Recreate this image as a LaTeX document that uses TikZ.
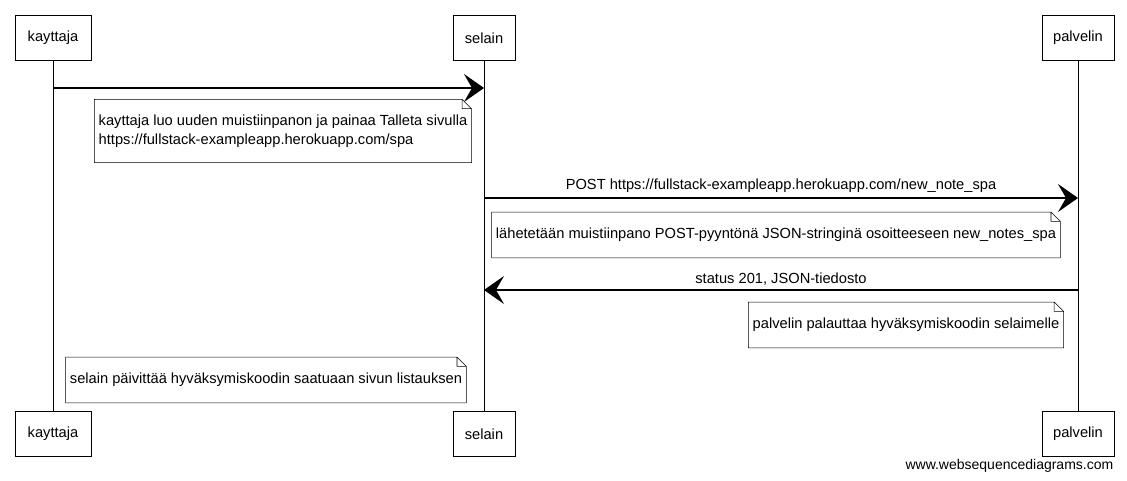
\documentclass[tikz,border=0pt]{standalone}
\usepackage{fontspec}
\setmainfont{Liberation Sans}
\usetikzlibrary{arrows.meta}

\begin{document}
\begin{tikzpicture}[x=0.75pt, y=-0.75pt,
  font=\fontsize{11}{14.25}\selectfont,
  actor/.style = {draw, rectangle, minimum height=34pt, inner xsep=6pt},
  note/.style = {align=left, inner xsep=3pt, inner ysep=2pt, minimum height=34pt},
  msg/.style = {-{Stealth[length=15pt, width=21pt, inset=6pt]}, line width=1pt},
  lifeline/.style = {line width=0.6pt}]
  \useasboundingbox (0,0) rectangle (1127,481);
  % actors, top and bottom
  \node[actor, minimum width=57pt] (kayttajaTop) at (53,38) {kayttaja};
  \node[actor, minimum width=46.5pt] (selainTop) at (484,38) {selain};
  \node[actor, minimum width=54pt] (palvelinTop) at (1078,38) {palvelin};
  \node[actor, minimum width=57pt] (kayttajaBot) at (53,434) {kayttaja};
  \node[actor, minimum width=46.5pt] (selainBot) at (484,434) {selain};
  \node[actor, minimum width=54pt] (palvelinBot) at (1078,434) {palvelin};
  \foreach \a in {kayttaja,selain,palvelin}
    \draw[lifeline] (\a Top) -- (\a Bot);
  % message ends
  \coordinate (m1a) at (53,88);
  \coordinate (m1b) at (484,88);
  \coordinate (m2a) at (484,198);
  \coordinate (m2b) at (1078,198);
  \coordinate (m3a) at (1078,290);
  \coordinate (m3b) at (484,290);
  \draw[msg] (m1a) -- (m1b);
  \draw[msg] (m2a) -- node[above=0pt] (post) {POST https://fullstack-exampleapp.herokuapp.com/new\_note\_spa} (m2b);
  \draw[msg] (m3a) -- node[above=0pt] (status) {status 201, JSON-tiedosto} (m3b);
  % notes
  \node[note, minimum height=47pt] (n1) at (283,131) {kayttaja luo uuden muistiinpanon ja painaa Talleta sivulla\\https://fullstack-exampleapp.herokuapp.com/spa};
  \node[note] (n2) at (776,235) {lähetetään muistiinpano POST-pyyntönä JSON-stringinä osoitteeseen new\_notes\_spa};
  \node[note] (n3) at (906,325) {palvelin palauttaa hyväksymiskoodin selaimelle};
  \node[note] (n4) at (266,380) {selain päivittää hyväksymiskoodin saatuaan sivun listauksen};
  \foreach \n in {n1,n2,n3,n4}
    \draw (\n.south west) -- (\n.north west) -- ([xshift=-7pt]\n.north east)
      -- ([yshift=-7pt]\n.north east) -- (\n.south east) -- cycle
      ([xshift=-7pt]\n.north east) |- ([yshift=-7pt]\n.north east);
  \node[anchor=east, font=\fontsize{10.5}{12}\selectfont] (credit) at (1118,466) {www.websequencediagrams.com};
\end{tikzpicture}
\end{document}
